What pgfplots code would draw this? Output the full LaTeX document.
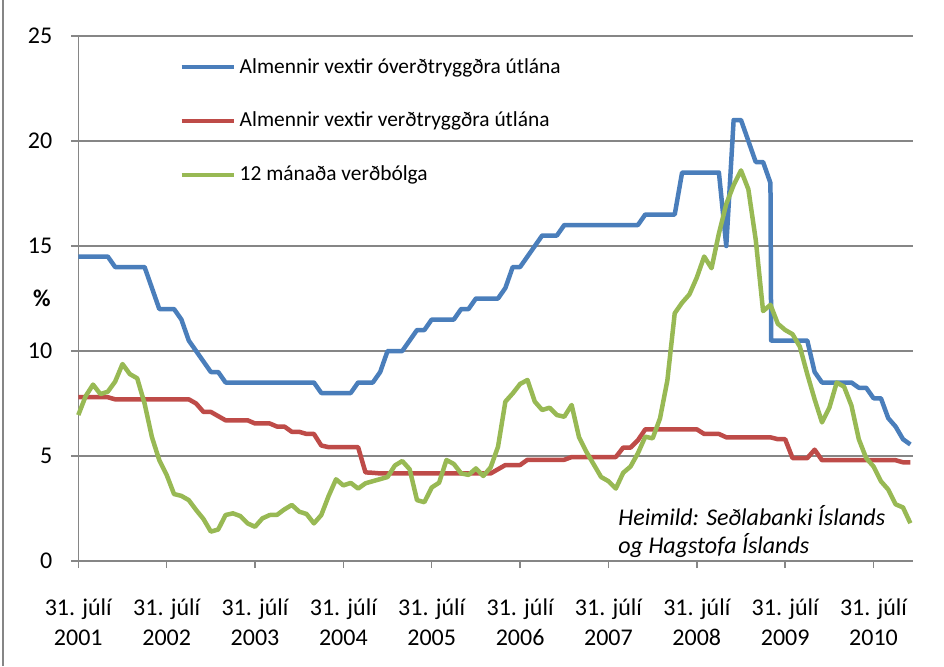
\documentclass[border=0pt]{standalone}
\usepackage{fontspec}
\setmainfont{Carlito}
\usepackage{pgfplots}
\pgfplotsset{compat=1.18}
\definecolor{serblue}{HTML}{4A7EBB}
\definecolor{serred}{HTML}{BE4B48}
\definecolor{sergreen}{HTML}{98B954}
\definecolor{gridgray}{HTML}{868686}
\begin{document}
\begin{tikzpicture}
\useasboundingbox (0,0) rectangle (472pt,333pt);
\draw[gridgray, line width=0.75pt] (1.5pt,0) -- (1.5pt,333pt);
\begin{axis}[
    at={(39.15pt,52.5pt)}, anchor=south west,
    scale only axis, width=417.5pt, height=262.5pt,
    xmin=0, xmax=113.4, ymin=0, ymax=25,
    axis x line*=bottom, axis y line*=left,
    axis line style={gridgray, line width=0.75pt, -},
    xtick={0,12,...,108},
    xticklabels={{31. júlí\\2001},{31. júlí\\2002},{31. júlí\\2003},{31. júlí\\2004},{31. júlí\\2005},{31. júlí\\2006},{31. júlí\\2007},{31. júlí\\2008},{31. júlí\\2009},{31. júlí\\2010}},
    ytick={0,5,...,25},
    ymajorgrids, grid style={gridgray, line width=0.75pt},
    tick align=outside, major tick length=3.5pt,
    tick style={gridgray, line width=0.75pt},
    tick label style={font=\fontsize{12}{15}\selectfont},
    xticklabel style={align=center, yshift=-12pt},
    yticklabel style={xshift=-6pt},
    /pgf/number format/assume math mode=true,
    clip=false,
    legend style={at={(rel axis cs:0.121,0.966)}, anchor=north west, draw=none, fill=none,
        inner sep=0pt, row sep=14pt, font=\fontsize{10.7}{13}\selectfont},
    legend cell align=left,
    legend image code/.code={\draw[#1, line width=2pt] (0pt,0pt) -- (26pt,0pt);},
    every axis plot/.append style={line width=2.25pt, line join=round},
]
\addplot[serblue] coordinates {
(0,14.5)(1,14.5)(2,14.5)(3,14.5)(4,14.5)(5,14)(6,14)(7,14)(8,14)(9,14)
(10,13)(11,12)(12,12)(13,12)(14,11.5)(15,10.5)(16,10)(17,9.5)(18,9)(19,9)
(20,8.5)(21,8.5)(22,8.5)(23,8.5)(24,8.5)(25,8.5)(26,8.5)(27,8.5)(28,8.5)(29,8.5)
(30,8.5)(31,8.5)(32,8.5)(33,8)(34,8)(35,8)(36,8)(37,8)(38,8.5)(39,8.5)
(40,8.5)(41,9)(42,10)(43,10)(44,10)(45,10.5)(46,11)(47,11)(48,11.5)(49,11.5)
(50,11.5)(51,11.5)(52,12)(53,12)(54,12.5)(55,12.5)(56,12.5)(57,12.5)(58,13)(59,14)
(60,14)(61,14.5)(62,15)(63,15.5)(64,15.5)(65,15.5)(66,16)(67,16)(68,16)(69,16)
(70,16)(71,16)(72,16)(73,16)(74,16)(75,16)(76,16)(77,16.5)(78,16.5)(79,16.5)
(80,16.5)(81,16.5)(82,18.5)(83,18.5)(84,18.5)(85,18.5)(86,18.5)(87,18.5)(88,15)(89,21)
(90,21)(91,20)(92,19)(93,19)(94,18)(94.1,10.5)(95,10.5)(96,10.5)(97,10.5)(98,10.5)(99,10.5)
(100,9)(101,8.5)(102,8.5)(103,8.5)(104,8.5)(105,8.5)(106,8.25)(107,8.25)(108,7.75)(109,7.75)
(110,6.8)(111,6.4)(112,5.8)(113,5.55)
};
\addlegendentry{Almennir vextir óverðtryggðra útlána}
\addplot[serred] coordinates {
(0,7.8)(1,7.8)(2,7.8)(3,7.8)(4,7.8)(5,7.7)(6,7.7)(7,7.7)(8,7.7)(9,7.7)
(10,7.7)(11,7.7)(12,7.7)(13,7.7)(14,7.7)(15,7.7)(16,7.5)(17,7.1)(18,7.1)(19,6.9)
(20,6.7)(21,6.7)(22,6.7)(23,6.7)(24,6.55)(25,6.55)(26,6.55)(27,6.4)(28,6.4)(29,6.15)
(30,6.15)(31,6.05)(32,6.05)(33,5.5)(34,5.42)(35,5.42)(36,5.42)(37,5.42)(38,5.42)(39,4.22)
(40,4.2)(41,4.17)(42,4.17)(43,4.17)(44,4.17)(45,4.17)(46,4.17)(47,4.17)(48,4.17)(49,4.17)
(50,4.17)(51,4.17)(52,4.17)(53,4.17)(54,4.17)(55,4.17)(56,4.17)(57,4.37)(58,4.57)(59,4.57)
(60,4.57)(61,4.82)(62,4.82)(63,4.82)(64,4.82)(65,4.82)(66,4.82)(67,4.95)(68,4.95)(69,4.95)
(70,4.95)(71,4.95)(72,4.95)(73,4.95)(74,5.4)(75,5.4)(76,5.75)(77,6.27)(78,6.27)(79,6.27)
(80,6.27)(81,6.27)(82,6.27)(83,6.27)(84,6.27)(85,6.05)(86,6.05)(87,6.05)(88,5.89)(89,5.89)
(90,5.89)(91,5.89)(92,5.89)(93,5.89)(94,5.89)(95,5.8)(96,5.8)(97,4.9)(98,4.9)(99,4.9)
(100,5.3)(101,4.8)(102,4.8)(103,4.8)(104,4.8)(105,4.8)(106,4.8)(107,4.8)(108,4.8)(109,4.8)
(110,4.8)(111,4.8)(112,4.7)(113,4.7)
};
\addlegendentry{Almennir vextir verðtryggðra útlána}
\addplot[sergreen] coordinates {
(0,6.95)(1,7.85)(2,8.4)(3,7.95)(4,8.06)(5,8.54)(6,9.38)(7,8.9)(8,8.7)(9,7.5)
(10,5.9)(11,4.8)(12,4.1)(13,3.19)(14,3.1)(15,2.9)(16,2.43)(17,2.0)(18,1.4)(19,1.5)
(20,2.19)(21,2.27)(22,2.14)(23,1.79)(24,1.63)(25,2.03)(26,2.19)(27,2.2)(28,2.46)(29,2.67)
(30,2.35)(31,2.24)(32,1.79)(33,2.19)(34,3.1)(35,3.89)(36,3.6)(37,3.72)(38,3.45)(39,3.7)
(40,3.8)(41,3.9)(42,4.0)(43,4.55)(44,4.76)(45,4.37)(46,2.9)(47,2.8)(48,3.5)(49,3.73)
(50,4.81)(51,4.62)(52,4.17)(53,4.1)(54,4.41)(55,4.05)(56,4.46)(57,5.44)(58,7.59)(59,7.98)
(60,8.43)(61,8.62)(62,7.59)(63,7.19)(64,7.3)(65,6.95)(66,6.87)(67,7.43)(68,5.9)(69,5.2)
(70,4.6)(71,4.0)(72,3.8)(73,3.45)(74,4.2)(75,4.5)(76,5.13)(77,5.92)(78,5.84)(79,6.79)
(80,8.6)(81,11.8)(82,12.3)(83,12.7)(84,13.5)(85,14.5)(86,13.94)(87,15.6)(88,17.0)(89,17.9)
(90,18.6)(91,17.7)(92,15.3)(93,11.9)(94,12.2)(95,11.3)(96,11.0)(97,10.8)(98,10.2)(99,8.9)
(100,7.7)(101,6.6)(102,7.3)(103,8.5)(104,8.3)(105,7.4)(106,5.8)(107,4.9)(108,4.5)(109,3.8)
(110,3.4)(111,2.7)(112,2.55)(113,1.8)
};
\addlegendentry{12 mánaða verðbólga}
\node[font=\bfseries\fontsize{12}{14}\selectfont] at (rel axis cs:-0.0435,0.5) {\%};
\node[anchor=base west, inner sep=0pt, font=\itshape\fontsize{12}{14}\selectfont] at (axis cs:73.3,1.67) {Heimild: Seðlabanki Íslands};
\node[anchor=base west, inner sep=0pt, font=\itshape\fontsize{12}{14}\selectfont] at (axis cs:73.3,0.35) {og Hagstofa Íslands};
\end{axis}
\end{tikzpicture}
\end{document}
